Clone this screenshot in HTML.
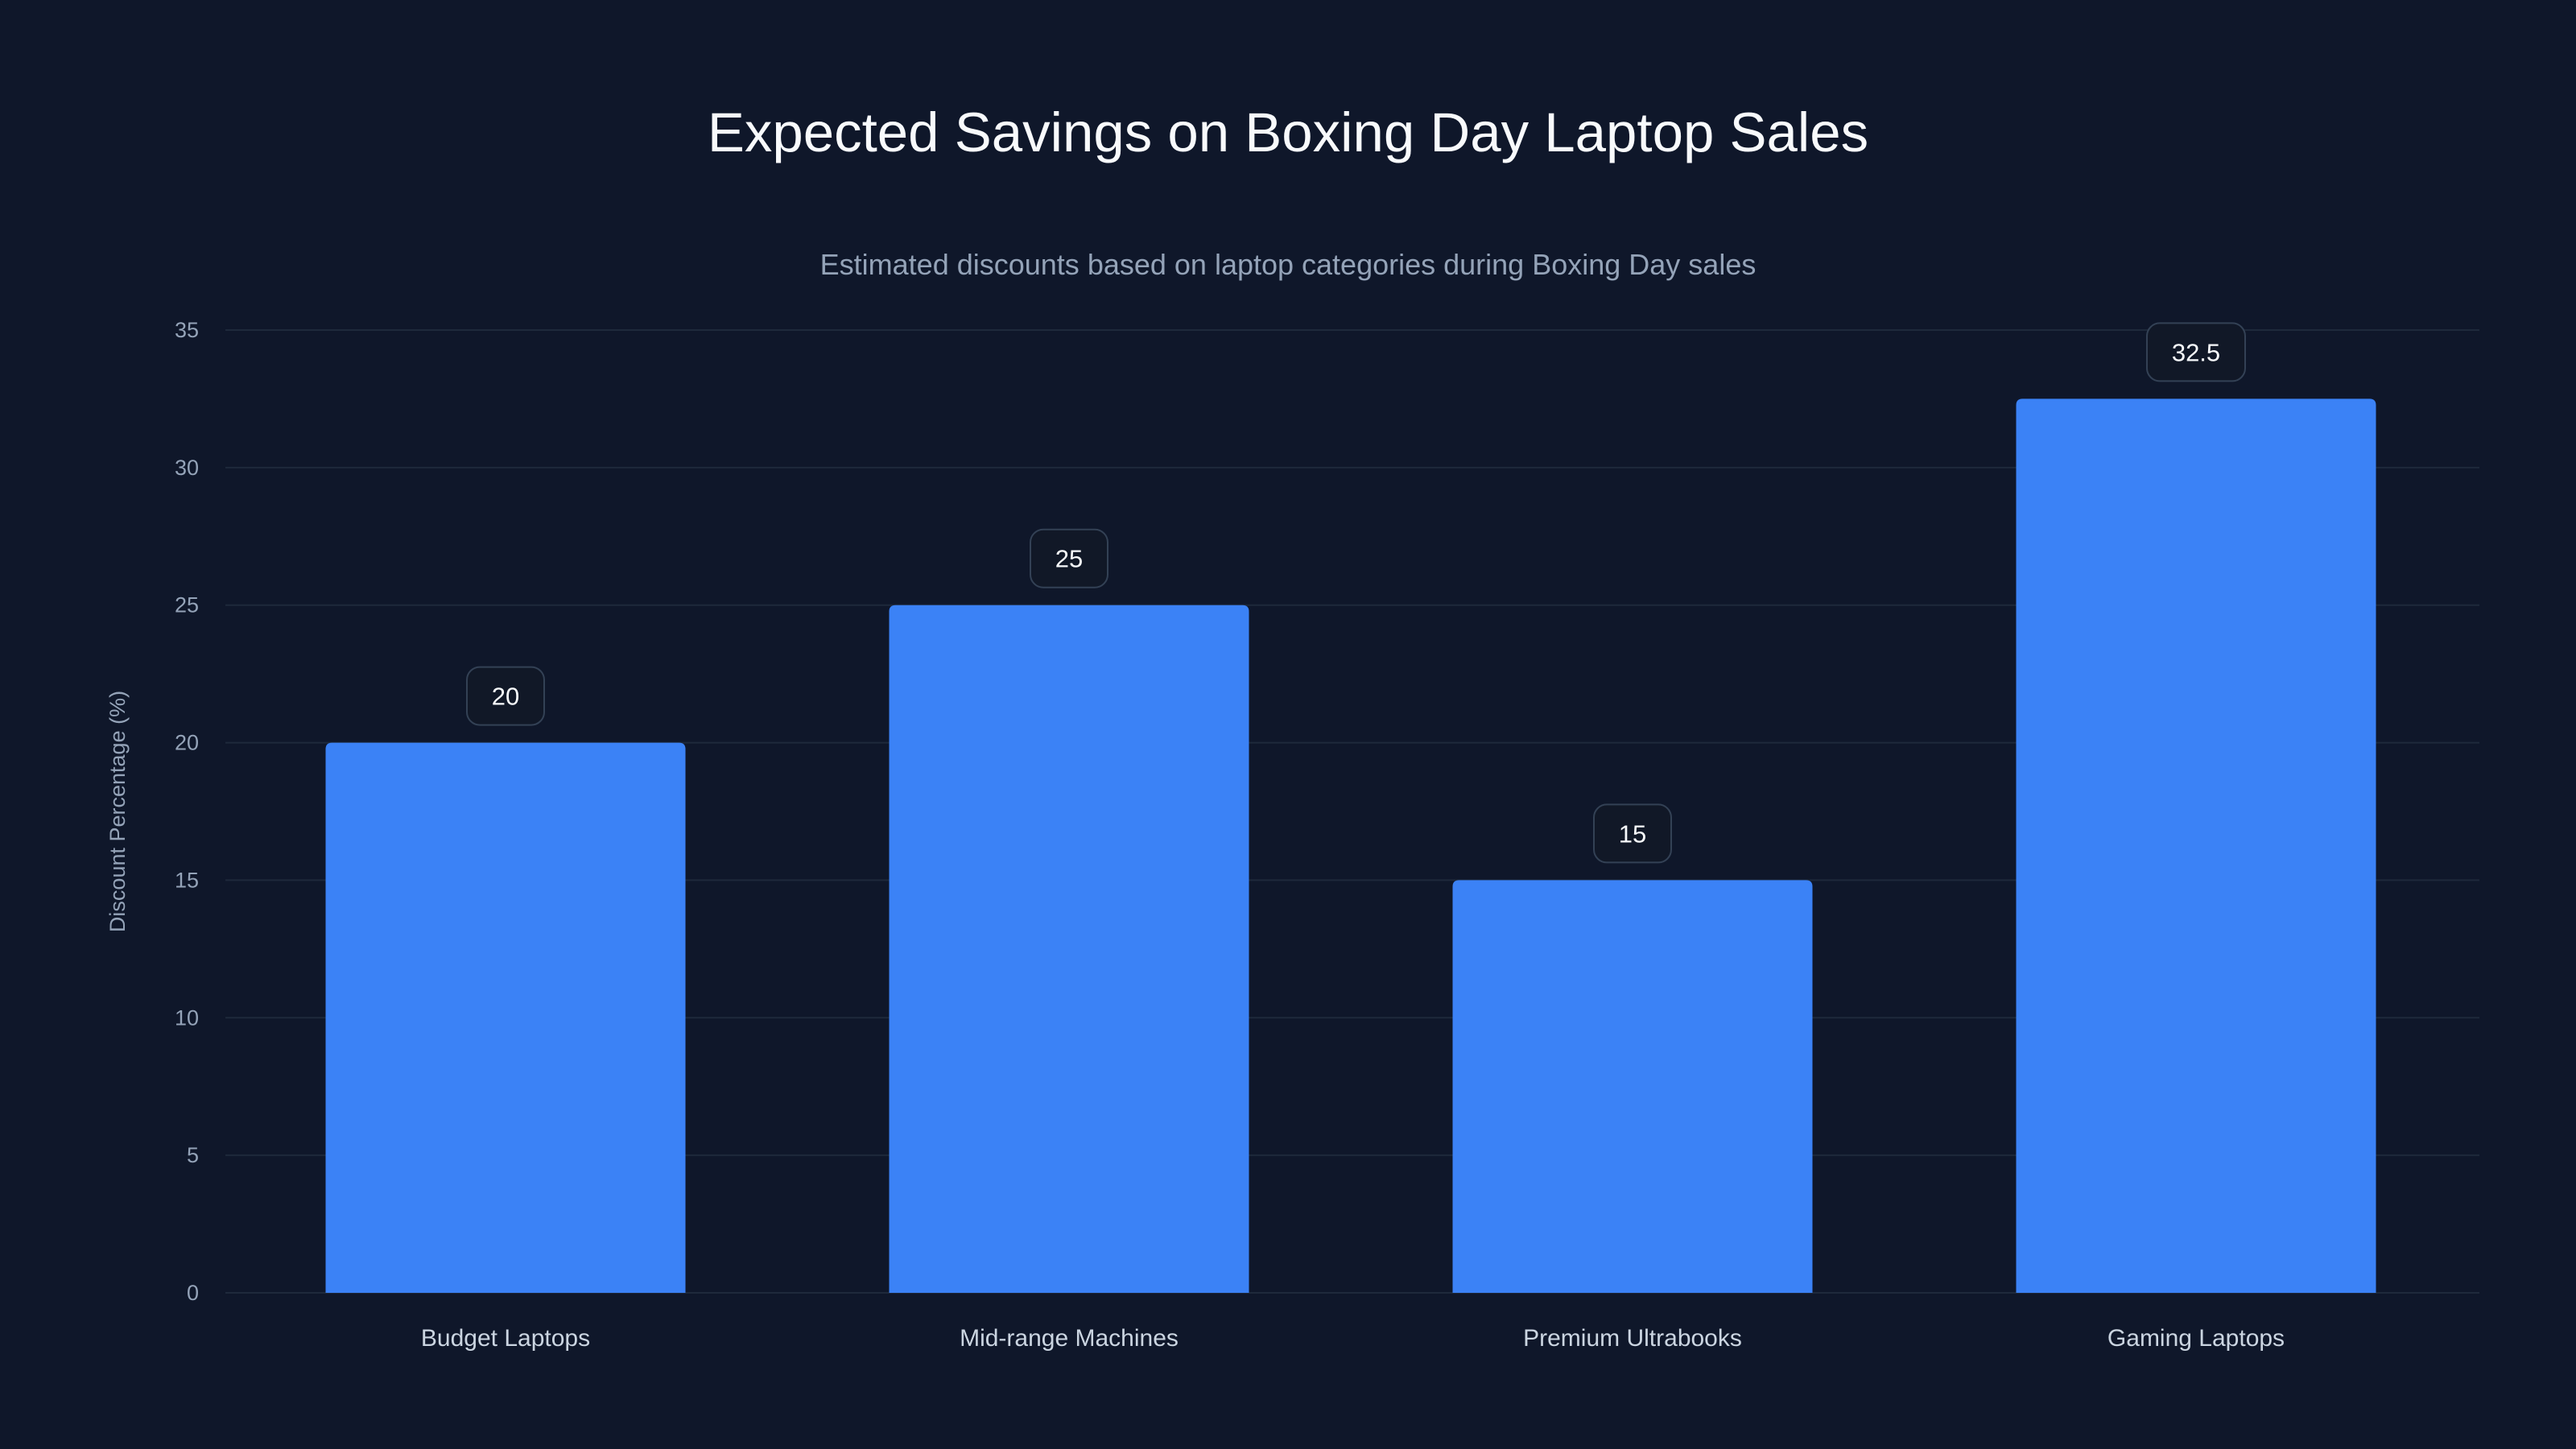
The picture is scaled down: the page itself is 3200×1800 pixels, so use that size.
<!DOCTYPE html>
<html><head><meta charset="utf-8"><style>
html,body{margin:0;padding:0;background:#0f172a;width:3200px;height:1800px;overflow:hidden}
svg text{font-family:"Liberation Sans",sans-serif}
</style></head><body>
<svg id="chart" width="3200" height="1800" viewBox="0 0 3200 1800">
<rect width="3200" height="1800" fill="#0f172a"/>
<text x="1600" y="188" text-anchor="middle" font-size="69" fill="#f8fafc">Expected Savings on Boxing Day Laptop Sales</text>
<text x="1600" y="341" text-anchor="middle" font-size="36" fill="#94a3b8">Estimated discounts based on laptop categories during Boxing Day sales</text>
<text transform="translate(155,1008) rotate(-90)" text-anchor="middle" font-size="27" fill="#94a3b8">Discount Percentage (%)</text>
<g id="grid"></g><g id="bars"></g>
</svg>
<script>
const categories = ["Budget Laptops","Mid-range Machines","Premium Ultrabooks","Gaming Laptops"];
const values = [20,25,15,32.5];
const valueLabels = ["20","25","15","32.5"];
const yTicks = [0,5,10,15,20,25,30,35];
const NS="http://www.w3.org/2000/svg";
const L=280,R=3080,Y0=1606,Y1=410,YMAX=35;
const y=v=>Y0-(v/YMAX)*(Y0-Y1);
const band=(R-L)/categories.length;
const x=i=>L+band*(i+0.5)-2;
const bw=447;
const grid=document.getElementById('grid'),bars=document.getElementById('bars');
function mk(t,a,p){const e=document.createElementNS(NS,t);for(const k in a)e.setAttribute(k,a[k]);p.appendChild(e);return e;}
yTicks.forEach(t=>{
  const l=mk('line',{x1:L,x2:R,y1:y(t),y2:y(t),stroke:'#1e293b','stroke-width':2},grid);
  
  
  const tx=mk('text',{x:247,y:y(t)+9,'text-anchor':'end','font-size':27,fill:'#94a3b8'},grid);
  tx.textContent=t;
  
  
});
categories.forEach((c,i)=>{
  const cx=x(i),top=y(values[i]),r=8;
  const p=mk('path',{d:`M${cx-bw/2},${Y0} V${top+r} Q${cx-bw/2},${top} ${cx-bw/2+r},${top} H${cx+bw/2-r} Q${cx+bw/2},${top} ${cx+bw/2},${top+r} V${Y0} Z`,fill:'#3b82f6'},bars);
  
  
  const lbl=valueLabels[i],bwid=lbl.length>2?122:96,bh=72,by=top-22-bh;
  const b=mk('rect',{x:cx-bwid/2,y:by,width:bwid,height:bh,rx:16,fill:'#111827',stroke:'#334155','stroke-width':2},bars);
  
  
  const vt=mk('text',{x:cx,y:by+bh/2+11,'text-anchor':'middle','font-size':31,fill:'#f8fafc'},bars);
  vt.textContent=lbl;
  
  
  const ct=mk('text',{x:cx,y:1672,'text-anchor':'middle','font-size':30,fill:'#cbd5e1'},bars);
  ct.textContent=c;
  
  
});
</script>
</body></html>
